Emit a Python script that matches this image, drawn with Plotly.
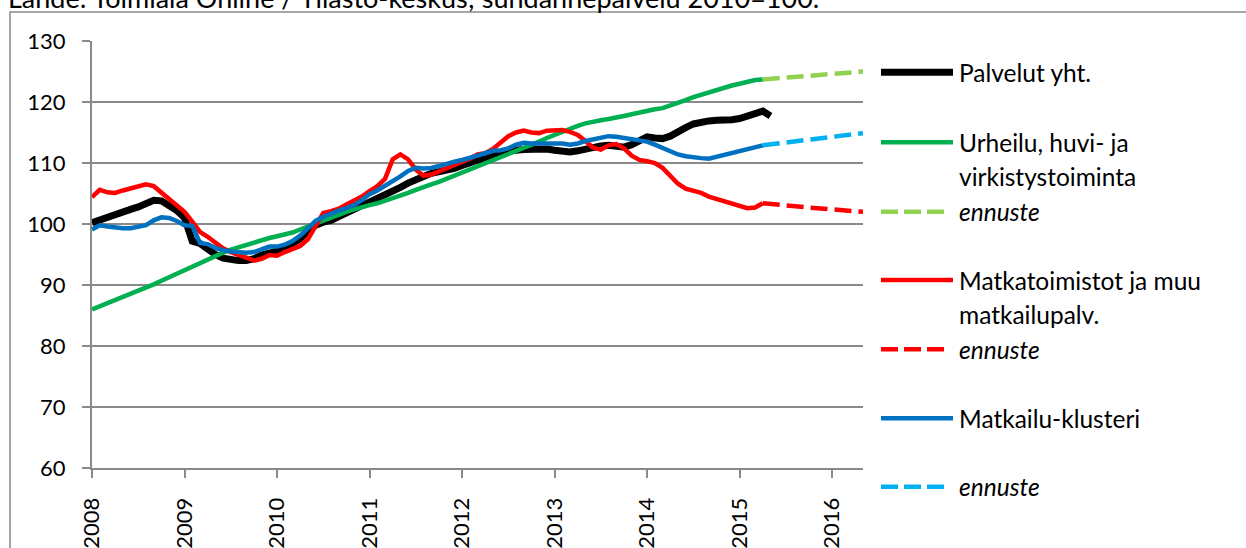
import plotly.graph_objects as go

# ---------------- data (monthly index, 2008-01 = month 0) ----------------
START_YEAR = 2008
palvelut = [100.2, 100.7, 101.1, 101.5, 101.9, 102.4, 102.8, 103.3, 103.9, 103.8,
            103.1, 102.2, 101.0, 97.2, 96.8, 95.8, 95.0, 94.4, 94.1, 94.0,
            94.0, 94.3, 94.9, 95.3, 95.4, 95.9, 96.8, 97.6, 98.8, 99.8,
            100.3, 100.6, 101.2, 101.8, 102.3, 102.9, 103.5, 104.0, 104.5, 105.3,
            106.0, 106.7, 107.4, 107.8, 108.3, 108.5, 108.7, 109.1, 109.6, 110.1,
            110.5, 110.9, 111.3, 111.6, 111.9, 112.1, 112.2, 112.3, 112.3, 112.3,
            112.1, 111.9, 111.8, 112.0, 112.3, 112.6, 112.8, 112.9, 112.8, 112.6,
            113.0, 113.8, 114.3, 114.1, 114.0, 114.4, 115.2, 115.8, 116.4, 116.8,
            116.9, 117.0, 117.0, 117.1, 117.3, 117.8, 118.3, 118.5, 117.7]
urheilu = [86.0, 86.5, 87.0, 87.5, 88.0, 88.5, 89.0, 89.5, 90.1, 90.7,
           91.3, 91.9, 92.5, 93.1, 93.7, 94.3, 94.8, 95.3, 95.8, 96.2,
           96.6, 97.0, 97.4, 97.7, 98.0, 98.3, 98.6, 99.1, 99.6, 100.1,
           100.6, 101.1, 101.6, 102.0, 102.4, 102.8, 103.1, 103.4, 103.8, 104.2,
           104.6, 105.1, 105.6, 106.1, 106.5, 106.9, 107.4, 107.9, 108.4, 108.9,
           109.4, 109.9, 110.4, 110.9, 111.4, 111.9, 112.4, 112.9, 113.5, 114.1,
           114.6, 115.2, 115.7, 116.1, 116.5, 116.8, 117.0, 117.2, 117.4, 117.7,
           118.0, 118.3, 118.5, 118.8, 119.0, 119.4, 119.8, 120.3, 120.8, 121.2,
           121.6, 122.0, 122.4, 122.7, 123.0, 123.3, 123.6, 123.7]
matkatoimistot = [104.4, 105.6, 105.2, 105.1, 105.5, 105.8, 106.1, 106.5, 106.2, 105.2,
                  104.1, 103.1, 102.0, 100.4, 98.7, 97.9, 96.9, 96.0, 95.4, 95.0,
                  94.5, 94.0, 94.3, 94.9, 94.8, 95.4, 96.0, 96.4, 97.5, 99.6,
                  101.8, 102.1, 102.5, 103.2, 103.8, 104.5, 105.4, 106.2, 107.4, 110.6,
                  111.4, 110.6, 108.9, 107.9, 108.1, 108.6, 109.1, 109.6, 110.1, 110.7,
                  111.4, 111.6, 112.3, 113.3, 114.4, 115.0, 115.3, 115.0, 114.9, 115.3,
                  115.4, 115.4, 115.1, 114.6, 113.6, 112.5, 112.2, 112.9, 113.1, 112.4,
                  111.2, 110.5, 110.3, 110.0, 109.2, 108.0, 106.6, 105.8, 105.4, 105.1,
                  104.5, 104.1, 103.7, 103.3, 102.9, 102.6, 102.7, 103.4]
klusteri = [99.1, 99.8, 99.6, 99.4, 99.3, 99.3, 99.5, 99.8, 100.6, 101.1,
            101.0, 100.5, 99.8, 99.7, 96.9, 96.7, 96.1, 95.7, 95.5, 95.4,
            95.3, 95.4, 95.8, 96.3, 96.3, 96.6, 97.2, 98.1, 99.3, 100.5,
            101.2, 101.8, 102.2, 102.6, 103.1, 103.9, 104.9, 105.5, 106.2, 107.0,
            107.8, 108.7, 109.2, 109.1, 109.2, 109.5, 109.9, 110.2, 110.5, 110.8,
            111.2, 111.6, 112.0, 112.1, 112.4, 113.0, 113.3, 113.2, 113.2, 113.3,
            113.3, 113.2, 113.0, 113.2, 113.6, 113.9, 114.2, 114.4, 114.3, 114.1,
            114.0, 113.8, 113.5, 113.0, 112.4, 111.8, 111.4, 111.1, 110.9, 110.8,
            110.7, 111.0, 111.4, 111.7, 111.9, 112.2, 112.6, 112.9]
forecast_months = [87, 90, 93, 96, 100]
urheilu_ennuste = [123.7, 124.0, 124.4, 124.7, 125.0]
matka_ennuste = [103.4, 103.0, 102.7, 102.4, 102.0]
klusteri_ennuste = [112.9, 113.4, 113.9, 114.4, 114.9]

tick_years = [2008, 2009, 2010, 2011, 2012, 2013, 2014, 2015, 2016]
y_ticks = [60, 70, 80, 90, 100, 110, 120, 130]
TOTAL_MONTHS = 100

legend_labels = [["Palvelut yht."], ["Urheilu, huvi- ja", "virkistystoiminta"], ["<i>ennuste</i>"],
                 ["Matkatoimistot ja muu", "matkailupalv."], ["<i>ennuste</i>"],
                 ["Matkailu-klusteri"], ["<i>ennuste</i>"]]
source_text = "Lähde: Toimiala Online / Tilasto-keskus; suhdannepalvelu 2010=100."

# ---------------- style ----------------
BLACK, GREEN, LGREEN = "#000000", "#00B050", "#92D050"
RED, BLUE, LBLUE = "#FF0000", "#0070C0", "#00B0F0"
GRID = "#8A8A8A"
FONT = "Lato"
DASH = "17px,7px"

series = [
    (palvelut, None, BLACK, 7, "solid"),
    (urheilu, None, GREEN, 4.5, "solid"),
    (urheilu_ennuste, forecast_months, LGREEN, 4.5, DASH),
    (matkatoimistot, None, RED, 4.5, "solid"),
    (matka_ennuste, forecast_months, RED, 4.5, DASH),
    (klusteri, None, BLUE, 4.5, "solid"),
    (klusteri_ennuste, forecast_months, LBLUE, 4.5, DASH),
]


def to_year(months):
    return [START_YEAR + m / 12 for m in months]


fig = go.Figure()
for vals, months, color, width, dash in series:
    if months is None:
        months = list(range(len(vals)))
    fig.add_trace(go.Scatter(x=to_year(months), y=vals, mode="lines",
                             line=dict(color=color, width=width, dash=dash),
                             showlegend=False, hoverinfo="skip"))

W, H = 1246, 548
L, R, T, B = 92, 863, 41, 468


def px(x):
    return (x - L) / (R - L)


def py(y):
    return (B - y) / (B - T)


# ---------------- manual legend ----------------
row_y = [72.3, 142.3, 211.7, 280, 349.3, 418.3, 486.7]
shapes = []
annotations = []
for i, (vals, months, color, width, dash) in enumerate(series):
    x1 = 944 if dash != "solid" else 953
    shapes.append(dict(type="line", xref="paper", yref="paper",
                       x0=px(881), x1=px(x1), y0=py(row_y[i]), y1=py(row_y[i]),
                       line=dict(color=color, width=width, dash=dash if dash == "solid" else "17px,6px")))
    for j, txt in enumerate(legend_labels[i]):
        annotations.append(dict(text=txt, xref="paper", yref="paper", x=px(957), y=py(row_y[i] + 34 * j),
                                xanchor="left", yanchor="middle", showarrow=False,
                                font=dict(family=FONT, size=24.5, color="#000000")))

# outer border of the chart area
shapes.append(dict(type="rect", xref="paper", yref="paper", x0=px(10), x1=px(1260),
                   y0=py(560), y1=py(12), line=dict(color=GRID, width=1.5), fillcolor="rgba(0,0,0,0)",
                   layer="below"))

annotations.append(dict(text=source_text, xref="paper", yref="paper", x=px(6), y=py(16),
                        xanchor="left", yanchor="bottom", showarrow=False,
                        font=dict(family=FONT, size=27, color="#000000")))

fig.update_layout(
    width=W, height=H,
    margin=dict(l=L, r=W - R, t=T, b=H - B, pad=0),
    paper_bgcolor="white", plot_bgcolor="white",
    font=dict(family=FONT, size=22, color="#000000"),
    shapes=shapes, annotations=annotations,
    xaxis=dict(range=[START_YEAR, START_YEAR + TOTAL_MONTHS / 12], automargin=False,
               tickvals=tick_years, ticktext=[str(y) for y in tick_years],
               tickangle=-90, ticks="outside", ticklen=8, tickwidth=2, tickcolor=GRID,
               showline=True, linecolor=GRID, linewidth=2, showgrid=False, zeroline=False,
               tickfont=dict(family=FONT, size=22), ticklabelstandoff=11),
    yaxis=dict(range=[60, 130], tickvals=y_ticks, ticks="outside", ticklen=8, tickwidth=2,
               automargin=False,
               tickcolor=GRID, showline=True, linecolor=GRID, linewidth=2,
               showgrid=True, gridcolor=GRID, gridwidth=2, zeroline=False,
               tickfont=dict(family=FONT, size=22), ticklabelstandoff=12),
)

fig.write_html("out.html", config={"displayModeBar": False},
               post_script="document.body.style.margin='0px';")
